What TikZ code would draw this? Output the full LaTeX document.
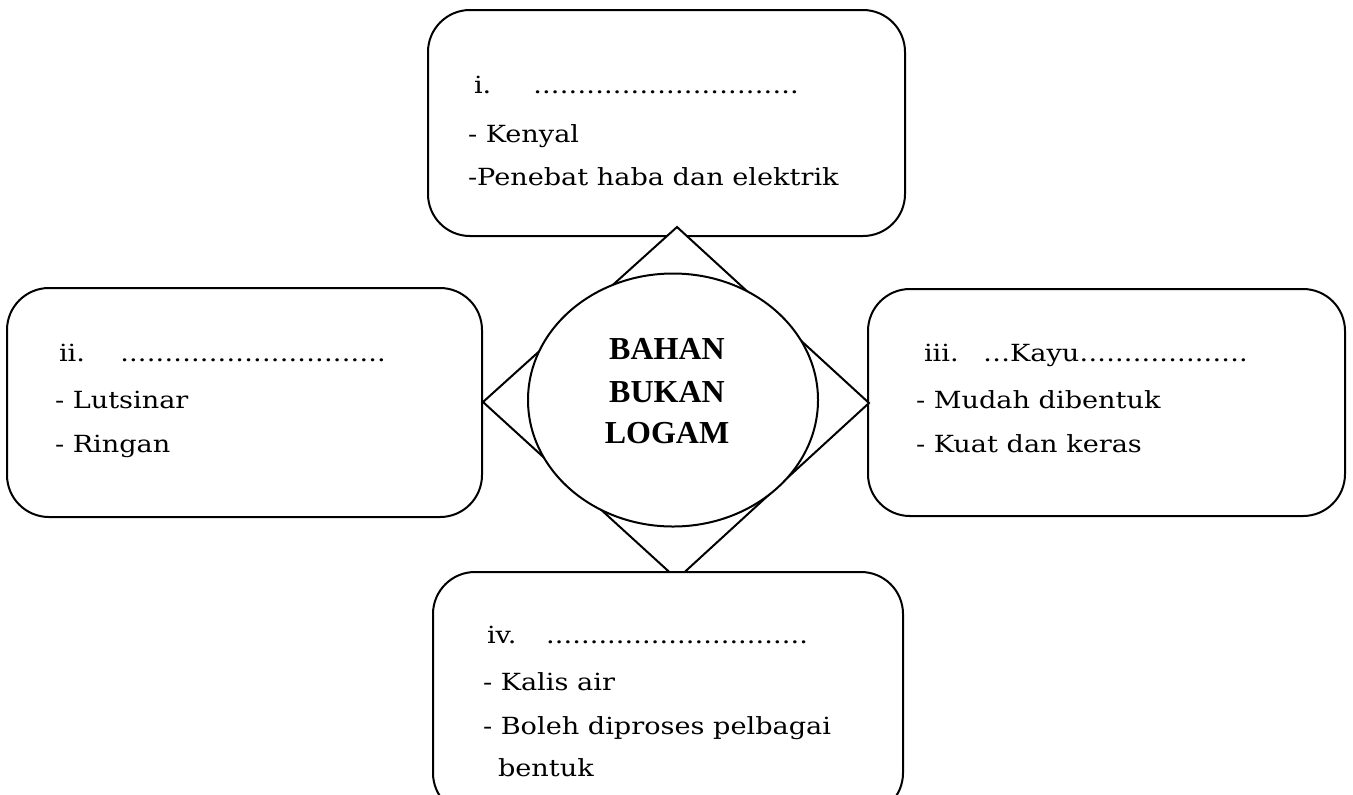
\documentclass[tikz,border=0pt]{standalone}
\usepackage{fontspec}
\setmainfont{DejaVu Serif}[FakeStretch=1.15]
\newfontfamily\titlefont{Liberation Serif}
\usetikzlibrary{shapes.geometric}
\newcommand\dotfillto[2]{\makebox[#1][l]{#2\xleaders\hbox to 4.3pt{\hss.\hss}\hfill}}
\begin{document}
\begin{tikzpicture}[x=0.5pt,y=-0.5pt, line width=1pt,
  box/.style={draw, rounded corners=21pt, fill=white, inner sep=0pt},
  txt/.style={anchor=base west, inner sep=0pt, font=\fontsize{11.8}{14}\selectfont},
  ttl/.style={anchor=base, inner sep=0pt, font=\titlefont\bfseries\fontsize{16}{19}\selectfont}]
\useasboundingbox (0,0) rectangle (1353,794);
\clip (0,0) rectangle (1353,794);
% boxes
\node[box, minimum width=238.5pt, minimum height=113pt] (top) at (666.5,123) {};
\node[box, minimum width=237.5pt, minimum height=114.5pt] (left) at (244.5,402.5) {};
\node[box, minimum width=238.5pt, minimum height=113.5pt] (right) at (1106.5,402.5) {};
% diamond
\draw[fill=white] (677,227) coordinate (dt) -- (869,403) coordinate (dr) -- (677,579) coordinate (db) -- (483,402) coordinate (dl) -- cycle;
% ellipse
\node[ellipse, draw, fill=white, minimum width=145pt, minimum height=126.5pt, inner sep=0pt] (core) at (673,400) {};
\node[ttl] (t1) at (667,359) {BAHAN};
\node[ttl] (t2) at (667,402) {BUKAN};
\node[ttl] (t3) at (667,443) {LOGAM};
% bottom box
\node[box, minimum width=235pt, minimum height=121.5pt] (bottom) at (668,693.5) {};
% texts top
\node[txt] (a1) at (473,93) {\makebox[29.5pt][l]{i.}\dotfillto{133pt}{}};
\node[txt] (a2) at (467,142) {- Kenyal};
\node[txt] (a3) at (467,185) {-Penebat haba dan elektrik};
% texts left
\node[txt] (b1) at (58,361) {\makebox[30.5pt][l]{ii.}\dotfillto{133pt}{}};
\node[txt] (b2) at (54,408) {- Lutsinar};
\node[txt] (b3) at (54,452) {- Ringan};
% texts right
\node[txt] (c1) at (923,361) {\makebox[29.5pt][l]{iii.}\dotfillto{132.5pt}{…Kayu}};
\node[txt] (c2) at (915,408) {- Mudah dibentuk};
\node[txt] (c3) at (915,452) {- Kuat dan keras};
% texts bottom
\node[txt] (d1) at (486,643) {\makebox[29.5pt][l]{iv.}\dotfillto{131pt}{}};
\node[txt] (d2) at (482,690) {- Kalis air};
\node[txt] (d3) at (482,734) {- Boleh diproses pelbagai};
\node[txt] (d4) at (497,776) {bentuk};
\end{tikzpicture}
\end{document}
